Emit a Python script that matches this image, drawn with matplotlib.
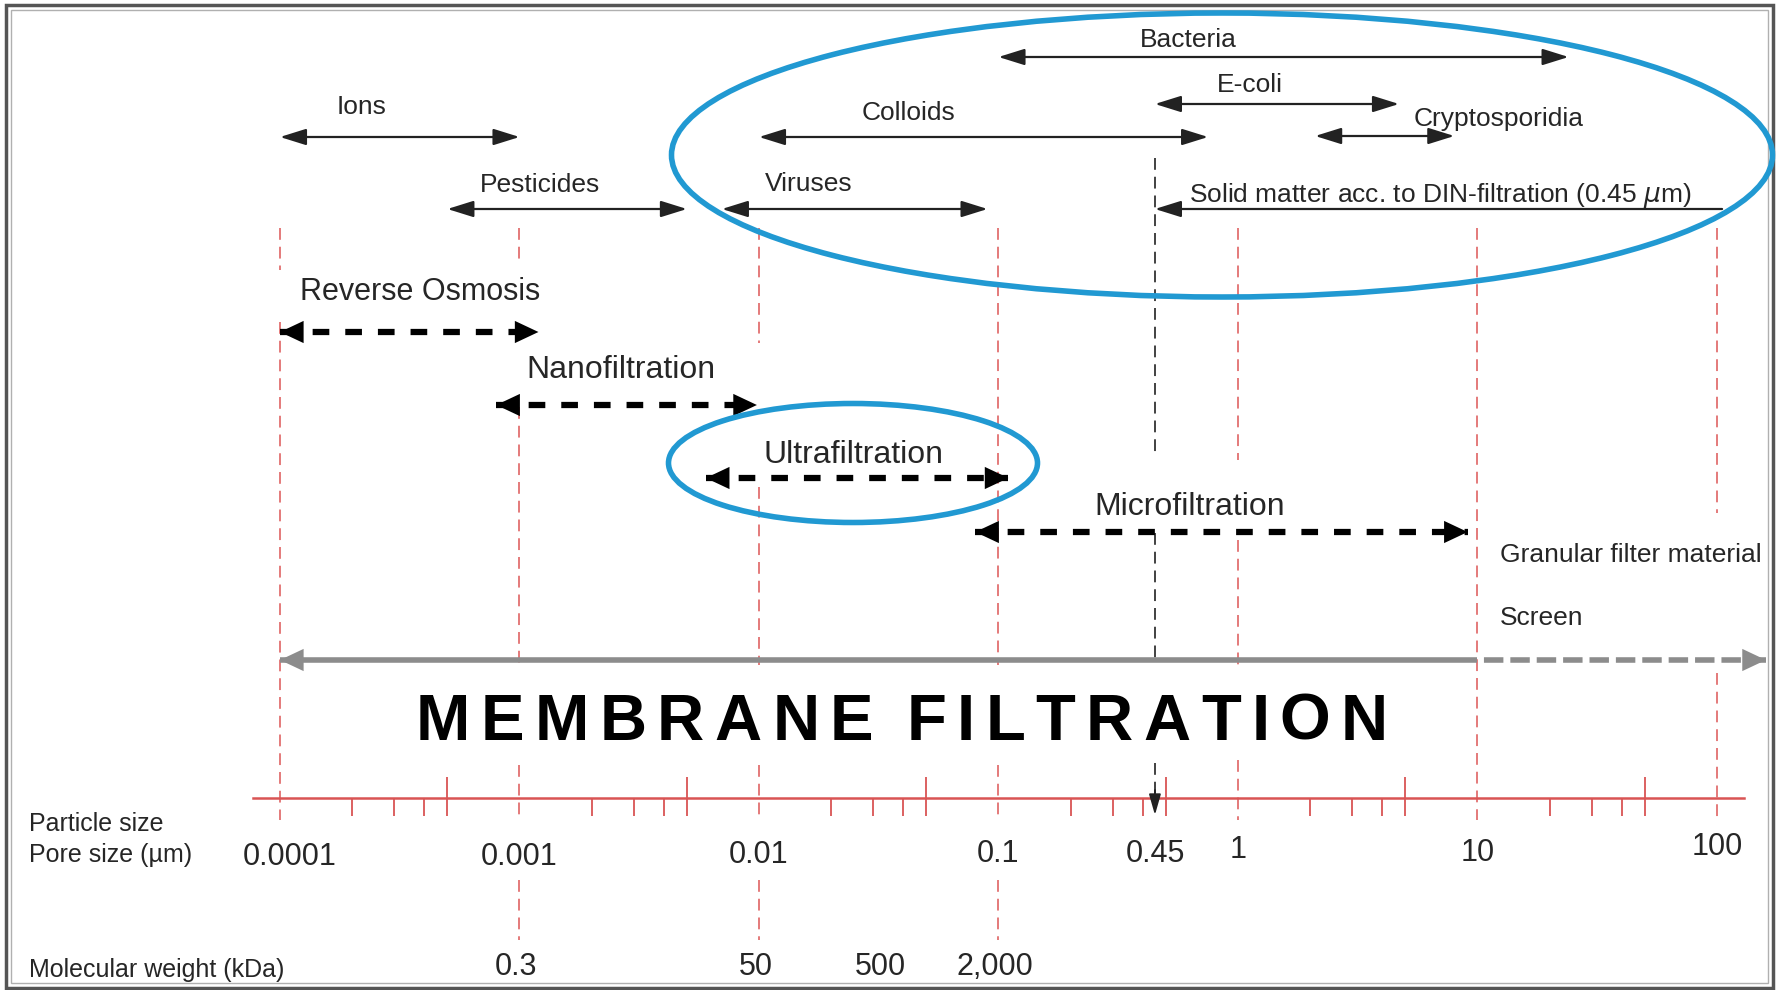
"""Membrane filtration spectrum: pore size range of each separation process."""

import matplotlib
matplotlib.use("Agg")
import matplotlib.pyplot as plt
import numpy as np
from matplotlib.patches import Ellipse, Rectangle

plt.rcParams["font.family"] = ["Liberation Sans", "DejaVu Sans"]
plt.rcParams["lines.scale_dashes"] = False

# particle / pore size scale (µm)
decades = [1e-4, 1e-3, 1e-2, 1e-1, 1, 10, 100]
decade_labels = ["0.0001", "0.001", "0.01", "0.1", "1", "10", "100"]
din_size = 0.45

# molecular weight cut-off (kDa) placed at pore size (µm)
mw_size = [1e-3, 1e-2, 0.033, 0.1]
mw_labels = ["0.3", "50", "500", "2,000"]

# contaminants: size range (µm)
contaminants = ["Ions", "Pesticides", "Viruses", "Colloids", "Bacteria", "E-coli", "Cryptosporidia"]
cont_lo = [1e-4, 5e-4, 0.007, 0.01, 0.1, 0.45, 2.1]
cont_hi = [1e-3, 5e-3, 0.09, 0.75, 24, 4.7, 8]
solid_lo, solid_hi = 0.45, 105

# separation processes: pore size range (µm)
processes = ["Reverse Osmosis", "Nanofiltration", "Ultrafiltration", "Microfiltration"]
proc_lo = [1e-4, 8e-4, 0.006, 0.08]
proc_hi = [1.2e-3, 9.8e-3, 0.11, 9.1]
membrane_lo, membrane_hi, screen_hi = 1e-4, 10, 160
other_media = ["Granular filter material", "Screen"]

# ---- layout (pixel rows, label anchors) ----
W, H = 1787, 990
PX_DECADE = 239.5
X0 = 280  # pixel column of 0.0001 µm

cont_row = [137, 209, 209, 137, 57, 104, 136]
cont_label_x = [2.2e-4, 1.22e-3, 0.0162, 0.042, 0.62, 1.12, 12.3]
cont_label_y = [114, 192, 191, 120, 47, 92, 126]
solid_row, solid_label_x, solid_label_y = 209, 7.0, 202
proc_row = [332, 405, 478, 532]
proc_label_x = [1.21e-4, 2.65e-3, 0.0247, 0.63]
proc_label_y = [300, 378, 463, 515]
proc_label_ha = ["left", "center", "center", "center"]
media_x, media_y = 12.4, [562, 625]
tick_label_y = [865, 865, 863, 862, 858, 861, 855]
din_label_y = 862
axis_row = 798
gray_row = 660

guides = {
    1e-4: [(228, 270), (322, 820)],
    1e-3: [(228, 263), (407, 665), (765, 820), (880, 940)],
    1e-2: [(228, 343), (487, 665), (765, 820), (880, 940)],
    1e-1: [(228, 665), (765, 820), (880, 940)],
    1: [(228, 460), (540, 665), (760, 820)],
    10: [(228, 820)],
    100: [(228, 513), (673, 820)],
}
din_guide = [(158, 453), (533, 663), (763, 798)]

TXT = "#262626"
RED = "#d95454"
GUIDE = "#e27070"
BLUE = "#2199d2"
GREY = "#8c8c8c"

fig = plt.figure(figsize=(W / 100, H / 100), dpi=100)
ax = fig.add_axes([0, 0, 1, 1])
ax.set_xscale("log")
left = -4 - X0 / PX_DECADE
ax.set_xlim(10 ** left, 10 ** (left + W / PX_DECADE))
ax.set_ylim(H, 0)
ax.axis("off")

over = fig.add_axes([0, 0, 1, 1], facecolor="none")
over.set_xlim(0, W)
over.set_ylim(H, 0)
over.axis("off")

# frame
over.add_patch(Rectangle((6, 5), 1767, 983, fill=False, ec="#555555", lw=2.5))
over.add_patch(Rectangle((11, 10), 1757, 973, fill=False, ec="#b0b0b0", lw=1))

# vertical guides
for x, segs in guides.items():
    for y0, y1 in segs:
        ax.plot([x, x], [y0, y1], color=GUIDE, lw=1.3, dashes=(8.5, 5))
for y0, y1 in din_guide:
    ax.plot([din_size] * 2, [y0, y1], color="#333333", lw=1.3, dashes=(8.5, 5))
ax.annotate("", xy=(din_size, 815), xytext=(din_size, 790),
            arrowprops=dict(arrowstyle="-|>,head_length=0.7,head_width=0.2", mutation_scale=18,
                            lw=1.3, color="#222222", shrinkA=0, shrinkB=0))

# contaminant ranges
thin = dict(arrowstyle="<|-|>,head_length=0.8,head_width=0.25", mutation_scale=20,
            lw=1.6, color="#222222", shrinkA=0, shrinkB=0)
for name, lo, hi, y, lx, ly in zip(contaminants, cont_lo, cont_hi, cont_row, cont_label_x, cont_label_y):
    ax.annotate("", xy=(hi, y), xytext=(lo, y), arrowprops=thin)
    ax.text(lx, ly, name, ha="center", va="baseline", fontsize=19, color=TXT)

ax.annotate("", xy=(solid_lo, solid_row), xytext=(solid_hi, solid_row),
            arrowprops=dict(thin, arrowstyle="-|>,head_length=0.8,head_width=0.25"))
ax.text(solid_label_x, solid_label_y, "Solid matter acc. to DIN-filtration (0.45 $\\mu$m)",
        ha="center", va="baseline", fontsize=19, color=TXT)

# membrane processes
head = dict(arrowstyle="-|>,head_length=0.85,head_width=0.4", mutation_scale=20,
            lw=0, color="black", shrinkA=0, shrinkB=0)
for name, lo, hi, y, lx, ly, ha in zip(processes, proc_lo, proc_hi, proc_row,
                                       proc_label_x, proc_label_y, proc_label_ha):
    ax.plot([lo, hi], [y, y], color="black", lw=4.5, dashes=(12, 11.5), dash_capstyle="butt")
    ax.annotate("", xy=(lo, y), xytext=(18, 0), textcoords="offset points", arrowprops=head)
    ax.annotate("", xy=(hi, y), xytext=(-18, 0), textcoords="offset points", arrowprops=head)
    ax.text(lx, ly, name, ha=ha, va="baseline", fontsize=23 if ha == "center" else 22, color=TXT)

for name, y in zip(other_media, media_y):
    ax.text(media_x, y, name, ha="left", va="baseline", fontsize=19, color=TXT)

# membrane filtration span (grey)
ax.plot([membrane_lo, membrane_hi], [gray_row] * 2, color=GREY, lw=4, solid_capstyle="butt")
ax.plot([membrane_hi, screen_hi], [gray_row] * 2, color=GREY, lw=4, linestyle=(14, (14, 5)))
ax.annotate("", xy=(membrane_lo, gray_row), xytext=(18, 0), textcoords="offset points",
            arrowprops=dict(head, color=GREY))
ax.annotate("", xy=(screen_hi, gray_row), xytext=(-18, 0), textcoords="offset points",
            arrowprops=dict(head, color=GREY))

# size axis
ax.plot([7.7e-5, 130], [axis_row] * 2, color=RED, lw=1.8)
minor = np.outer([1e-4, 1e-3, 1e-2, 1e-1, 1, 10], [2, 3, 4]).ravel()
fives = np.array([1e-4, 1e-3, 1e-2, 1e-1, 1, 10]) * 5
ax.vlines(minor, axis_row, axis_row + 18, color=RED, lw=1.3)
ax.vlines(fives, axis_row - 21, axis_row + 18, color=RED, lw=1.3)

for x, lab, y in zip(decades, decade_labels, tick_label_y):
    ax.text(x * (1.1 if lab == "0.0001" else 1), y, lab, ha="center", va="baseline", fontsize=22, color=TXT)
ax.text(din_size, din_label_y, "0.45", ha="center", va="baseline", fontsize=22, color=TXT)
for x, lab in zip(mw_size, mw_labels):
    ax.text(x * 0.97, 975, lab, ha="center", va="baseline", fontsize=22, color=TXT)

over.text(29, 831, "Particle size", ha="left", va="baseline", fontsize=18, color=TXT)
over.text(29, 862, "Pore size (µm)", ha="left", va="baseline", fontsize=18, color=TXT)
over.text(29, 977, "Molecular weight (kDa)", ha="left", va="baseline", fontsize=18, color=TXT)

# highlight ellipses
over.add_patch(Ellipse((1222, 155), 1101, 284, fill=False, ec=BLUE, lw=4))
over.add_patch(Ellipse((853, 463), 369, 119, fill=False, ec=BLUE, lw=4))

# spaced title
renderer = fig.canvas.get_renderer()
title_kw = dict(fontsize=47, fontweight="bold", color="black", va="baseline", ha="left",
                family=["Liberation Sans Narrow", "Liberation Sans", "DejaVu Sans"])
words = ["MEMBRANE", "FILTRATION"]
widths = []
for w in words:
    row = []
    for ch in w:
        t = over.text(0, 0, ch, **title_kw)
        row.append(t.get_window_extent(renderer).width)
        t.remove()
    widths.append(row)
t_left, t_right = 416, 1388
word_gap = 3.2  # gap between words, in units of the letter tracking
n_gaps = sum(len(w) - 1 for w in words) + word_gap
track = (t_right - t_left - sum(map(sum, widths))) / n_gaps
x = t_left
for w, row in zip(words, widths):
    for ch, cw in zip(w, row):
        over.text(x, 740, ch, **title_kw)
        x += cw + track
    x += track * (word_gap - 1)

fig.savefig("out.png", dpi=100, facecolor="white")
